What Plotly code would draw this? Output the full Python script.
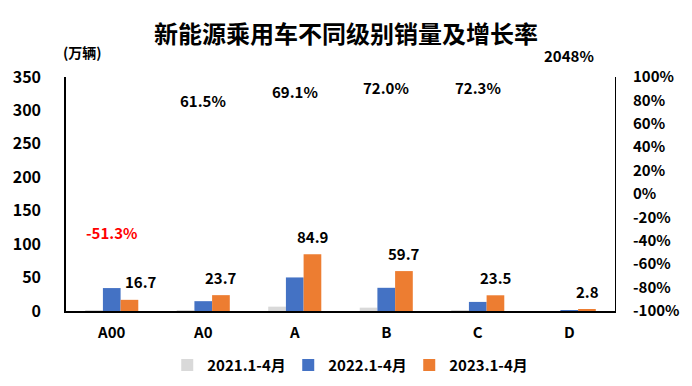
import plotly.graph_objects as go

categories = ["A00", "A0", "A", "B", "C", "D"]
sales_2021 = [1.0, 1.0, 6.5, 5.0, 1.0, 0.0]
sales_2022 = [34.3, 14.7, 50.2, 34.7, 13.6, 0.1]
sales_2023 = [16.7, 23.7, 84.9, 59.7, 23.5, 2.8]
growth_pct = [-51.3, 61.5, 69.1, 72.0, 72.3, 2048]
growth_labels = ["-51.3%", "61.5%", "69.1%", "72.0%", "72.3%", "2048%"]
series_names = ["2021.1-4月", "2022.1-4月", "2023.1-4月"]
left_ticks = [0, 50, 100, 150, 200, 250, 300, 350]
right_ticks = [-100, -80, -60, -40, -20, 0, 20, 40, 60, 80, 100]
right_ticktext = ["-100%", "-80%", "-60%", "-40%", "-20%", "0%", "20%", "40%", "60%", "80%", "100%"]

FONT = "Noto Sans CJK SC"
colors = ["#D9D9D9", "#4472C4", "#ED7D31"]

fig = go.Figure()
for name, vals, c in zip(series_names, [sales_2021, sales_2022, sales_2023], colors):
    fig.add_trace(go.Bar(x=categories, y=vals, name=name, marker_color=c,
                         marker_line_width=0, yaxis="y"))

# invisible trace to activate secondary axis
fig.add_trace(go.Scatter(x=categories, y=[max(min(g, 100), -100) for g in growth_pct],
                         yaxis="y2", mode="markers", marker=dict(opacity=0),
                         showlegend=False, hoverinfo="skip"))

annotations = []
for i, (cat, v) in enumerate(zip(categories, sales_2023)):
    annotations.append(dict(x=cat, y=v, xref="x", yref="y", text=f"{v:.1f}",
                            showarrow=False, xshift=29 if i == 0 else 18, yshift=18,
                            yanchor="middle",
                            font=dict(family=FONT, size=15, color="black", weight="bold")))
for cat, g, lab in zip(categories, growth_pct, growth_labels):
    annotations.append(dict(x=cat, y=min(g, 100), xref="x", yref="y2", text=lab,
                            showarrow=False, yshift=22, yanchor="middle",
                            font=dict(family=FONT, size=15,
                                      color="#FF0000" if g < 0 else "black", weight="bold")))
annotations.append(dict(x=-0.009, y=1.105, xref="paper", yref="paper", text="(万辆)",
                        showarrow=False, xanchor="left", yanchor="middle",
                        font=dict(family=FONT, size=14, color="black", weight="bold")))

fig.update_layout(
    annotations=annotations,
    width=692, height=386,
    margin=dict(l=66, r=77, t=77, b=75, autoexpand=False),
    paper_bgcolor="white", plot_bgcolor="white",
    title=dict(text="新能源乘用车不同级别销量及增长率", x=0.5, xanchor="center",
               y=0.91, yanchor="middle",
               font=dict(family=FONT, size=24, color="black", weight="bold")),
    barmode="group", bargap=0.42, bargroupgap=0,
    font=dict(family=FONT, size=14, color="black"),
    xaxis=dict(showline=True, linecolor="black", linewidth=1.5, ticks="",
               tickfont=dict(family=FONT, size=15, color="black", weight="bold"),
               ticklabelstandoff=7, showgrid=False, automargin=False),
    yaxis=dict(range=[0, 350], tickvals=left_ticks, showline=True, linecolor="black",
               linewidth=1.5, showgrid=False, zeroline=False, ticks="",
               tickfont=dict(family=FONT, size=16, color="black", weight="bold"),
               ticklabelstandoff=20, automargin=False),
    yaxis2=dict(range=[-100, 100], tickvals=right_ticks, ticktext=right_ticktext,
                overlaying="y", side="right", showline=True, linecolor="black",
                linewidth=1, showgrid=False, zeroline=False, ticks="",
                tickfont=dict(family=FONT, size=15, color="black", weight="bold"),
                ticklabelstandoff=14, automargin=False),
    legend=dict(orientation="h", x=0.515, xanchor="center", yref="container", y=0.054,
                yanchor="middle",
                font=dict(family=FONT, size=15, color="black", weight="bold"),
                itemwidth=30, tracegroupgap=0, entrywidth=76, entrywidthmode="pixels"),
    showlegend=True,
)

fig.write_html("out.html", config={"displayModeBar": False},
               post_script="document.body.style.margin='0';")
